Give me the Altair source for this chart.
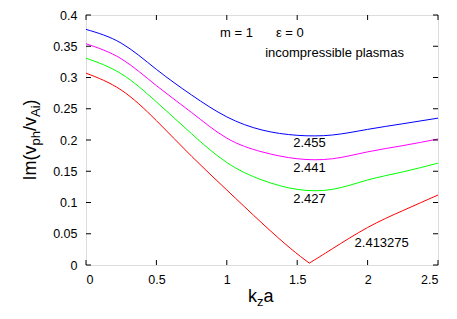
import altair as alt
import pandas as pd

# ---- data ----
grid_x = [0.0, 0.25, 0.5, 0.75, 1.0, 1.25, 1.5, 1.75, 2.0, 2.25, 2.5]
blue_y = [0.377, 0.355, 0.313, 0.272, 0.237, 0.216, 0.2075, 0.208, 0.217, 0.226, 0.235]
mag_y = [0.354, 0.330, 0.287, 0.244, 0.203, 0.181, 0.170, 0.170, 0.181, 0.191, 0.2016]
grn_y = [0.331, 0.306, 0.261, 0.210, 0.164, 0.136, 0.121, 0.121, 0.136, 0.149, 0.163]

# red has a cusp at its minimum: left and right branches
red_left_x = [0.0, 0.25, 0.5, 0.75, 1.0, 1.25, 1.45, 1.586]
red_left_y = [0.307, 0.280, 0.231, 0.174, 0.120, 0.067, 0.027, 0.003]
red_right_x = [1.586, 1.75, 2.0, 2.25, 2.5]
red_right_y = [0.003, 0.026, 0.060, 0.087, 0.112]

series_names = ["2.455", "2.441", "2.427", "2.413275"]
series_colors = ["#0000ff", "#ff00ff", "#00ff00", "#ff0000"]

label_text = ["2.455", "2.441", "2.427", "2.413275"]
label_x = [1.587, 1.587, 1.587, 2.10]
label_y = [0.195, 0.155, 0.106, 0.0355]

x_ticks = [0, 0.5, 1, 1.5, 2, 2.5]
y_ticks = [0, 0.05, 0.1, 0.15, 0.2, 0.25, 0.3, 0.35, 0.4]

FONT = "Liberation Sans"
W, H = 352, 250

rows = []
for name, seg, xs, ys in [
    ("2.455", "b", grid_x, blue_y),
    ("2.441", "m", grid_x, mag_y),
    ("2.427", "g", grid_x, grn_y),
    ("2.413275", "rl", red_left_x, red_left_y),
    ("2.413275", "rr", red_right_x, red_right_y),
]:
    for a, b in zip(xs, ys):
        rows.append({"x": a, "y": b, "s": name, "seg": seg})
df = pd.DataFrame(rows)

xscale = alt.Scale(domain=[0, 2.5], nice=False, zero=False)
yscale = alt.Scale(domain=[0, 0.4], nice=False, zero=False)

xaxis = alt.Axis(values=x_ticks, format="~g", title=None, grid=False, ticks=False, tickSize=0,
                 domain=False, labelFont=FONT, labelFontSize=12.5, labelColor="black",
                 labelPadding=8, labelOverlap=False)
yaxis = alt.Axis(values=y_ticks, format="~g", title=None, grid=False, ticks=False, tickSize=0,
                 domain=False, labelFont=FONT, labelFontSize=12.5, labelColor="black",
                 labelPadding=9, labelOverlap=False)


def X(field):
    return alt.X(field, scale=xscale, axis=xaxis, title=None)


def Y(field):
    return alt.Y(field, scale=yscale, axis=yaxis, title=None)


lines = alt.Chart(df).mark_line(strokeWidth=1, interpolate="natural").encode(
    x=X("x:Q"),
    y=Y("y:Q"),
    color=alt.Color("s:N", scale=alt.Scale(domain=series_names, range=series_colors), legend=None),
    detail="seg:N",
)

labels = alt.Chart(pd.DataFrame({"t": label_text, "x": label_x, "y": label_y})).mark_text(
    font=FONT, fontSize=13, color="black", align="center", baseline="middle"
).encode(x=X("x:Q"), y=Y("y:Q"), text="t:N")

notes_r = alt.Chart(pd.DataFrame({"t": ["m = 1", "incompressible plasmas"], "x": [1.186, 2.258], "y": [0.3714, 0.3395]})).mark_text(
    font=FONT, fontSize=13, color="black", baseline="middle", align="right"
).encode(x=X("x:Q"), y=Y("y:Q"), text="t:N")
notes_l = alt.Chart(pd.DataFrame({"t": ["ε = 0"], "x": [1.349], "y": [0.3714]})).mark_text(
    font=FONT, fontSize=13, color="black", baseline="middle", align="left"
).encode(x=X("x:Q"), y=Y("y:Q"), text="t:N")

# inward ticks on all four sides
xt = pd.DataFrame({"x": x_ticks})
yt = pd.DataFrame({"y": y_ticks})
tick_b = alt.Chart(xt).mark_rule(color="black", strokeWidth=1).encode(
    x=X("x:Q"), y=alt.value(H), y2=alt.value(H - 5))
tick_t = alt.Chart(xt).mark_rule(color="black", strokeWidth=1).encode(
    x=X("x:Q"), y=alt.value(0), y2=alt.value(5))
tick_l = alt.Chart(yt).mark_rule(color="black", strokeWidth=1).encode(
    y=Y("y:Q"), x=alt.value(0), x2=alt.value(5))
tick_r = alt.Chart(yt).mark_rule(color="black", strokeWidth=1).encode(
    y=Y("y:Q"), x=alt.value(W), x2=alt.value(W - 5))


def piece(txt, px, py, size, angle=0):
    return alt.Chart(pd.DataFrame({"t": [txt]})).mark_text(
        font=FONT, fontSize=size, color="black", align="left", baseline="alphabetic", angle=angle
    ).encode(x=alt.value(px), y=alt.value(py), text="t:N")


# y title: Im(v_ph/v_Ai), rotated
ytitle = [
    piece("Im(v", -50, 165.5, 18, 270),
    piece("ph", -46, 130.5, 13, 270),
    piece("/v", -50, 116.0, 18, 270),
    piece("Ai", -46, 102.0, 13, 270),
    piece(")", -50, 90.5, 18, 270),
]
# x title: k_z a
xtitle = [
    piece("k", 162, 286.5, 18),
    piece("z", 171, 290.5, 13),
    piece("a", 177.5, 286.5, 18),
]

chart = alt.layer(
    lines, labels, notes_r, notes_l, tick_b, tick_t, tick_l, tick_r, *ytitle, *xtitle
).properties(
    width=W, height=H,
    autosize=alt.AutoSizeParams(type="none"),
    padding={"left": 78, "top": 7, "right": 11, "bottom": 46},
).configure_view(stroke="black", strokeWidth=1).configure(background="white")

chart.save("out.html", embed_options={"renderer": "svg", "actions": False})
